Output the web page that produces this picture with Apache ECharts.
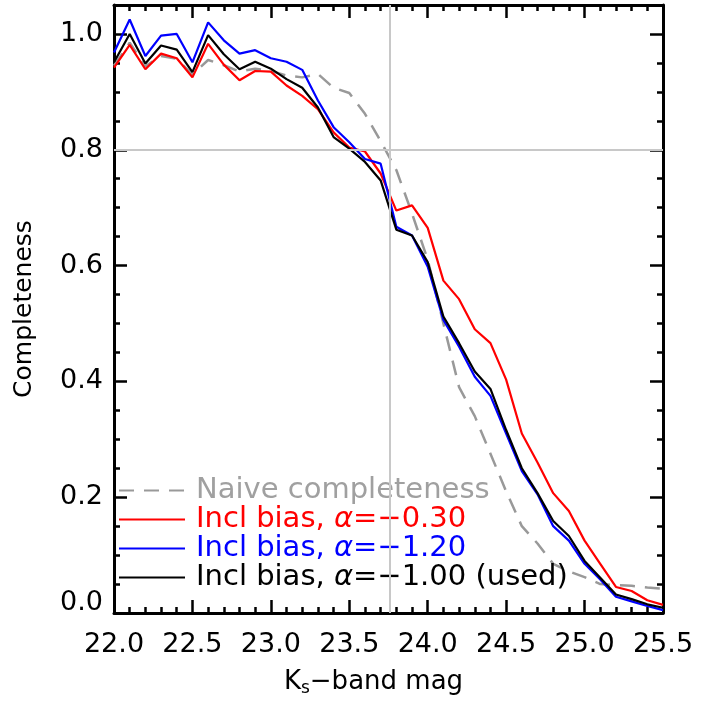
<!DOCTYPE html>
<html><head><meta charset="utf-8">
<script src="https://cdn.jsdelivr.net/npm/echarts@6/dist/echarts.min.js"></script>
<style>html,body{margin:0;padding:0;background:#fff}#c{width:716px;height:702px}</style>
</head><body><div id="c"></div>
<script>
// ---- data ----
const mags = [22.0,22.1,22.2,22.3,22.4,22.5,22.6,22.7,22.8,22.9,
              23.0,23.1,23.2,23.3,23.4,23.5,23.6,23.7,23.8,23.9,
              24.0,24.1,24.2,24.3,24.4,24.5,24.6,24.7,24.8,24.9,
              25.0,25.1,25.2,25.3,25.4,25.5];
const naiveCompleteness = [0.945,0.985,0.944,0.962,0.957,0.930,0.955,0.946,0.935,0.940,
                           0.936,0.928,0.925,0.931,0.907,0.898,0.862,0.815,0.765,0.690,
                           0.610,0.500,0.390,0.340,0.275,0.210,0.150,0.120,0.085,0.072,
                           0.062,0.050,0.048,0.047,0.044,0.042];
const biasAlphaM030 = [0.942,0.981,0.939,0.966,0.958,0.925,0.983,0.947,0.920,0.936,
                       0.935,0.911,0.893,0.870,0.830,0.804,0.797,0.759,0.695,0.704,
                       0.665,0.574,0.542,0.490,0.466,0.403,0.310,0.260,0.207,0.176,
                       0.125,0.085,0.045,0.038,0.022,0.014];
const biasAlphaM120 = [0.968,1.025,0.962,0.997,1.000,0.951,1.020,0.989,0.966,0.972,
                       0.958,0.952,0.938,0.885,0.839,0.813,0.784,0.776,0.667,0.652,
                       0.598,0.506,0.460,0.408,0.375,0.310,0.245,0.205,0.150,0.125,
                       0.085,0.058,0.028,0.020,0.012,0.005];
const biasAlphaM100 = [0.951,1.000,0.949,0.980,0.973,0.934,0.998,0.965,0.939,0.952,
                       0.940,0.922,0.907,0.873,0.822,0.802,0.779,0.747,0.662,0.652,
                       0.606,0.512,0.466,0.417,0.387,0.316,0.250,0.207,0.159,0.133,
                       0.090,0.061,0.032,0.024,0.015,0.009];
const seriesNames = ['Naive completeness','Incl bias, α=−0.30','Incl bias, α=−1.20','Incl bias, α=−1.00 (used)'];
const refMag = 23.76;
const refCompleteness = 0.8;

// ---- chart ----
const FONT = 'DejaVu Sans';
const FS = 27;
const LFS = 29;
const pair = arr => mags.map((m, i) => [m, arr[i]]);
const chart = echarts.init(document.getElementById('c'), null, {renderer: 'canvas'});

const tickStyle = {color: '#000', width: 2.5};
function xAx(pos, labels) {
  return {
    type: 'value', position: pos, min: 22, max: 25.5, interval: 0.5,
    axisLine: {show: true, onZero: false, lineStyle: {color: '#000', width: 3}},
    axisTick: {show: true, inside: true, length: 13, lineStyle: tickStyle},
    minorTick: {show: true, splitNumber: 5, length: 6, lineStyle: tickStyle},
    splitLine: {show: false}, minorSplitLine: {show: false},
    axisLabel: labels ? {show: true, margin: 18, fontSize: FS, fontFamily: FONT, color: '#000',
      formatter: v => v.toFixed(1)} : {show: false},
    name: labels ? 'K{s|s}−band mag' : '', nameLocation: 'middle', nameGap: 55,
    nameTextStyle: {fontSize: 26, fontFamily: FONT, color: '#000', padding: [0, 30, 0, 0],
      rich: {s: {fontSize: 17, fontFamily: FONT, color: '#000', padding: [12, 0, 0, 0]}}}
  };
}
function yAx(pos, labels, minor) {
  return {
    type: 'value', position: pos, min: 0, max: 1.05, interval: minor ? 0.05 : 0.2,
    axisLine: {show: !minor, onZero: false, lineStyle: {color: '#000', width: 3}},
    axisTick: {show: true, inside: true, length: minor ? 6 : 13, lineStyle: tickStyle},
    splitLine: {show: false},
    axisLabel: labels ? {show: true, margin: 11, fontSize: FS, fontFamily: FONT, color: '#000',
      showMaxLabel: false,
      formatter: v => v === 0 ? '{z|0.0}' : v.toFixed(1),
      rich: {z: {fontSize: FS, fontFamily: FONT, color: '#000', padding: [0, 0, 20, 0]}}} : {show: false},
    name: labels ? 'Completeness' : '', nameLocation: 'middle', nameGap: 77,
    nameTextStyle: {fontSize: 25, fontFamily: FONT, color: '#000'}
  };
}

const colors = ['#999999', '#ff0000', '#0000ff', '#000000'];
const textColors = ['#a0a0a0', '#ff0000', '#0000ff', '#000000'];
const dataSets = [naiveCompleteness, biasAlphaM030, biasAlphaM120, biasAlphaM100];

const series = [{
  name: 'ref', type: 'line', data: [], silent: true,
  markLine: {silent: true, symbol: 'none', animation: false, label: {show: false},
    lineStyle: {color: '#c8c8c8', width: 2, type: 'solid'},
    emphasis: {disabled: true},
    data: [{xAxis: refMag}, {yAxis: refCompleteness}]}
}];
dataSets.forEach((d, i) => {
  series.push({
    name: seriesNames[i], type: 'line', data: pair(d), symbol: 'none', showSymbol: false,
    xAxisIndex: 0, yAxisIndex: 0, animation: false, silent: true,
    lineStyle: {color: colors[i], width: i === 0 ? 2.5 : 2.2, type: i === 0 ? [15, 10] : 'solid'},
    itemStyle: {color: colors[i]}
  });
});

chart.setOption({
  animation: false,
  backgroundColor: '#fff',
  grid: {left: 114, top: 5, width: 549, height: 609, containLabel: false},
  xAxis: [xAx('bottom', true), xAx('top', false)],
  yAxis: [yAx('left', true, false), yAx('left', false, true), yAx('right', false, false), yAx('right', false, true)],
  legend: {
    orient: 'vertical', left: 118, top: 476, padding: 0, itemGap: 0,
    itemWidth: 66, itemHeight: 14, selectedMode: false,
    itemStyle: {opacity: 0, borderWidth: 0},
    textStyle: {fontFamily: FONT, fontSize: LFS, lineHeight: 29, padding: [0, 0, 0, 6]},
    formatter: name => name.replace('α', '{a|α}'),
    data: seriesNames.map((n, i) => ({
      name: n,
      itemStyle: {opacity: 0, borderWidth: 0},
      textStyle: {color: textColors[i],
        rich: {a: {color: textColors[i], fontStyle: 'italic', fontFamily: FONT, fontSize: LFS}}}
    }))
  },
  series: series
});
</script>
</body></html>
